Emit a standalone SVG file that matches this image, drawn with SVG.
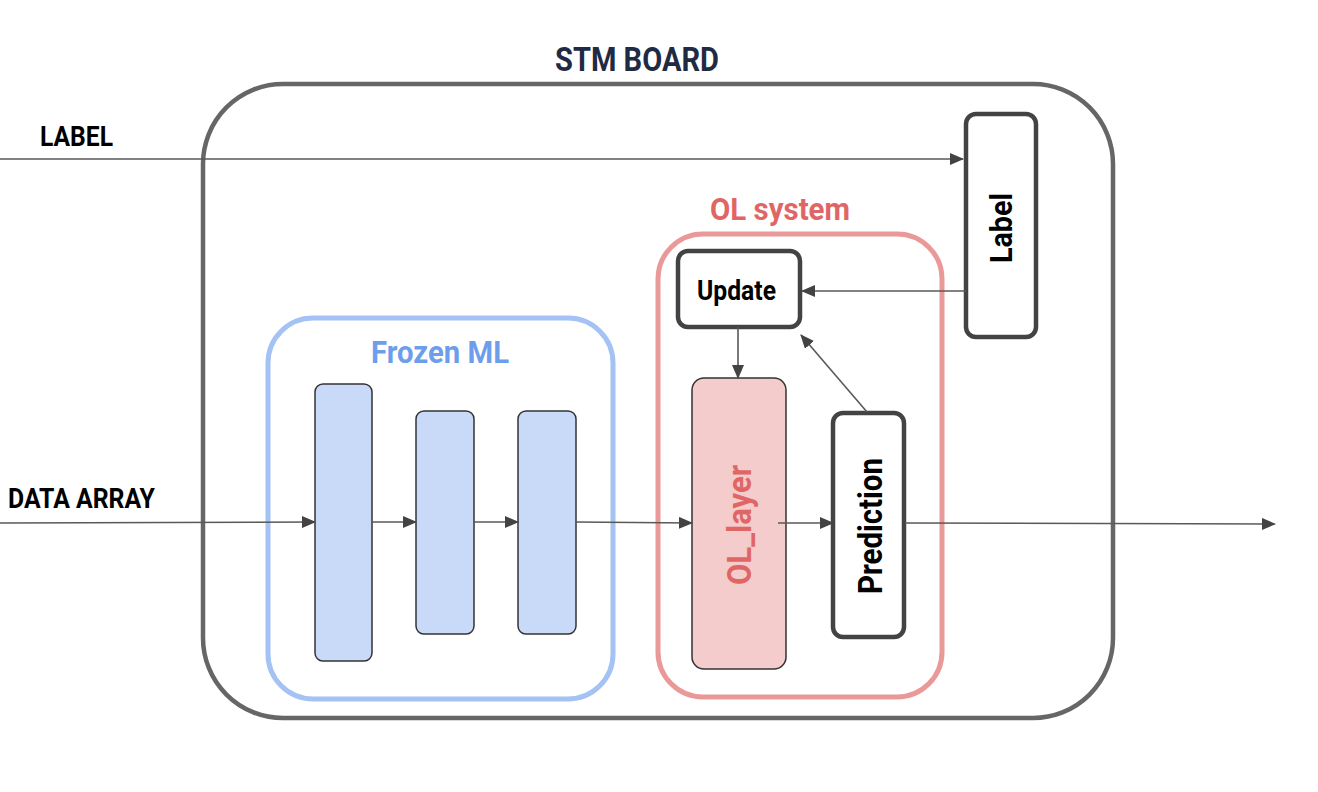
<svg xmlns="http://www.w3.org/2000/svg" width="1318" height="792" viewBox="0 0 1318 792">
<defs>
<marker id="arr" markerWidth="14" markerHeight="12" refX="13" refY="6" orient="auto" markerUnits="userSpaceOnUse">
<path d="M0,0 L14,6 L0,12 Z" fill="#434343"/>
</marker>
<style>
text{font-family:"Roboto","Liberation Sans",sans-serif;font-weight:bold}
.ttl{font-size:33px}
.lbl{font-size:27px;fill:#000}
.box{fill:#fff;stroke:#434343;stroke-width:4.5}
.bar{fill:#c9daf8;stroke:#333;stroke-width:1.5}
.con{stroke:#595959;stroke-width:1.6;fill:none}
</style>
</defs>
<rect width="1318" height="792" fill="#fff"/>

<g id="stm-board">
<rect x="203" y="84" width="910" height="634" rx="80" ry="80" fill="none" stroke="#666" stroke-width="4.5"/>
<text class="ttl" x="555" y="71" textLength="164" lengthAdjust="spacingAndGlyphs" fill="#1f2a44">STM BOARD</text>
</g>

<g id="frozen-ml">
<rect x="268" y="318" width="345" height="381" rx="45" fill="none" stroke="#a4c2f4" stroke-width="5"/>
<text class="ttl" x="371" y="363" textLength="138" lengthAdjust="spacingAndGlyphs" fill="#6d9eeb" style="font-size:32px">Frozen ML</text>
</g>
<g id="bar1"><rect class="bar" x="315" y="384" width="57" height="277" rx="8"/></g>
<g id="bar2"><rect class="bar" x="416" y="411" width="58" height="223" rx="8"/></g>
<g id="bar3"><rect class="bar" x="518" y="411" width="58" height="223" rx="8"/></g>

<g id="ol-system">
<rect x="658" y="234" width="284" height="463" rx="45" fill="none" stroke="#ea9999" stroke-width="5"/>
<text class="ttl" x="710" y="220" textLength="140" lengthAdjust="spacingAndGlyphs" fill="#e06666" style="font-size:32px">OL system</text>
</g>

<g id="update">
<rect class="box" x="678" y="251" width="122" height="76" rx="10"/>
<text class="lbl" x="697" y="300" textLength="79" lengthAdjust="spacingAndGlyphs">Update</text>
</g>

<g id="ol-layer">
<rect x="692" y="378" width="94" height="291" rx="12" fill="#f4cccc" stroke="#333" stroke-width="1.5"/>
<text transform="translate(751,525) rotate(-90)" text-anchor="middle" textLength="120" lengthAdjust="spacingAndGlyphs" fill="#e06666" style="font-size:33px">OL_layer</text>
</g>

<g id="prediction">
<rect class="box" x="833" y="413" width="71" height="224" rx="10"/>
<text transform="translate(882,526) rotate(-90)" text-anchor="middle" textLength="136" lengthAdjust="spacingAndGlyphs" fill="#000" style="font-size:33px">Prediction</text>
</g>

<g id="label-box">
<rect class="box" x="966" y="114" width="70" height="223" rx="10"/>
<text transform="translate(1012,228) rotate(-90)" text-anchor="middle" textLength="70" lengthAdjust="spacingAndGlyphs" fill="#000" style="font-size:31px">Label</text>
</g>

<g id="input-labels">
<text class="lbl" x="40" y="146" textLength="73" lengthAdjust="spacingAndGlyphs">LABEL</text>
<text class="lbl" x="8" y="508" textLength="147" lengthAdjust="spacingAndGlyphs">DATA ARRAY</text>
</g>

<g id="connectors">
<line class="con" x1="0" y1="159" x2="963" y2="159" marker-end="url(#arr)"/>
<line class="con" x1="966" y1="291" x2="802" y2="291" marker-end="url(#arr)"/>
<line class="con" x1="738" y1="327" x2="738" y2="378" marker-end="url(#arr)"/>
<line class="con" x1="867" y1="412" x2="801" y2="335" marker-end="url(#arr)"/>
<line class="con" x1="0" y1="523" x2="315" y2="522" marker-end="url(#arr)"/>
<line class="con" x1="372" y1="522" x2="416" y2="522" marker-end="url(#arr)"/>
<line class="con" x1="474" y1="522" x2="518" y2="522" marker-end="url(#arr)"/>
<line class="con" x1="576" y1="522" x2="692" y2="523" marker-end="url(#arr)"/>
<line class="con" x1="778" y1="523" x2="833" y2="523" marker-end="url(#arr)"/>
<line class="con" x1="905" y1="523" x2="1275" y2="524" marker-end="url(#arr)"/>
</g>
</svg>
